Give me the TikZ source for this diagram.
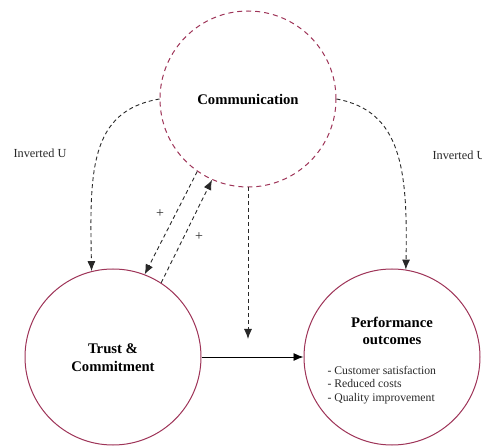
\documentclass[tikz,border=0pt]{standalone}
\usepackage{fontspec}
\setmainfont{Liberation Serif}
\usetikzlibrary{arrows.meta}
\definecolor{ring}{RGB}{158,52,88}
\definecolor{ink}{RGB}{40,40,40}
\tikzset{
  ball/.style={circle, draw=ring, line width=1pt, minimum size=176pt, inner sep=0pt},
  dashball/.style={ball, dash pattern=on 5pt off 4pt},
  title/.style={font=\fontsize{14.7}{18}\selectfont\bfseries, align=center, text=black},
  lbl/.style={font=\fontsize{12.3}{14}\selectfont, text=ink},
  plus/.style={font=\fontsize{14}{15}\selectfont, text=ink},
  dashlink/.style={draw=ink, line width=0.9pt, dash pattern=on 4pt off 3pt, -{Latex[length=10pt,width=8pt]}},
  solidlink/.style={draw=black, line width=0.9pt, -{Latex[length=10pt,width=8pt]}}
}
\begin{document}
\begin{tikzpicture}[x=1pt,y=-1pt]
\useasboundingbox (0,0) rectangle (482,446);
\node[dashball] (comm) at (248,99) {};
\node[ball] (trust) at (113,357) {};
\node[ball] (perf) at (392,357) {};
\node[title] (commt) at (248,99) {Communication};
\node[title] (trustt) at (113,358) {Trust \&\\Commitment};
\node[title, font=\fontsize{14.7}{16.5}\selectfont\bfseries] (perft) at (392,331) {Performance\\outcomes};
\node[anchor=west, align=left, font=\fontsize{11.7}{13.2}\selectfont, text=ink] (list) at (324,385) {- Customer satisfaction\\- Reduced costs\\- Quality improvement};
\node[lbl] (invl) at (40,153) {Inverted U};
\node[lbl, anchor=west] (invr) at (429,155) {Inverted U};
\node[plus] (p1) at (160,214) {+};
\node[plus] (p2) at (199,237) {+};
\coordinate (vend) at (248,339);
\draw[dashlink] (comm.west) .. controls +(-70,12) and +(-2,-100) .. (trust.104.5);
\draw[dashlink] (comm.east) .. controls +(65,12) and +(2,-100) .. (perf.81.7);
\draw[dashlink] (comm.235.6) -- (trust.69);
\draw[dashlink] (trust.57.6) -- (comm.246);
\draw[dashlink] (comm.south) -- (vend);
\draw[solidlink] (trust.east) -- (perf.west);
\end{tikzpicture}
\end{document}
